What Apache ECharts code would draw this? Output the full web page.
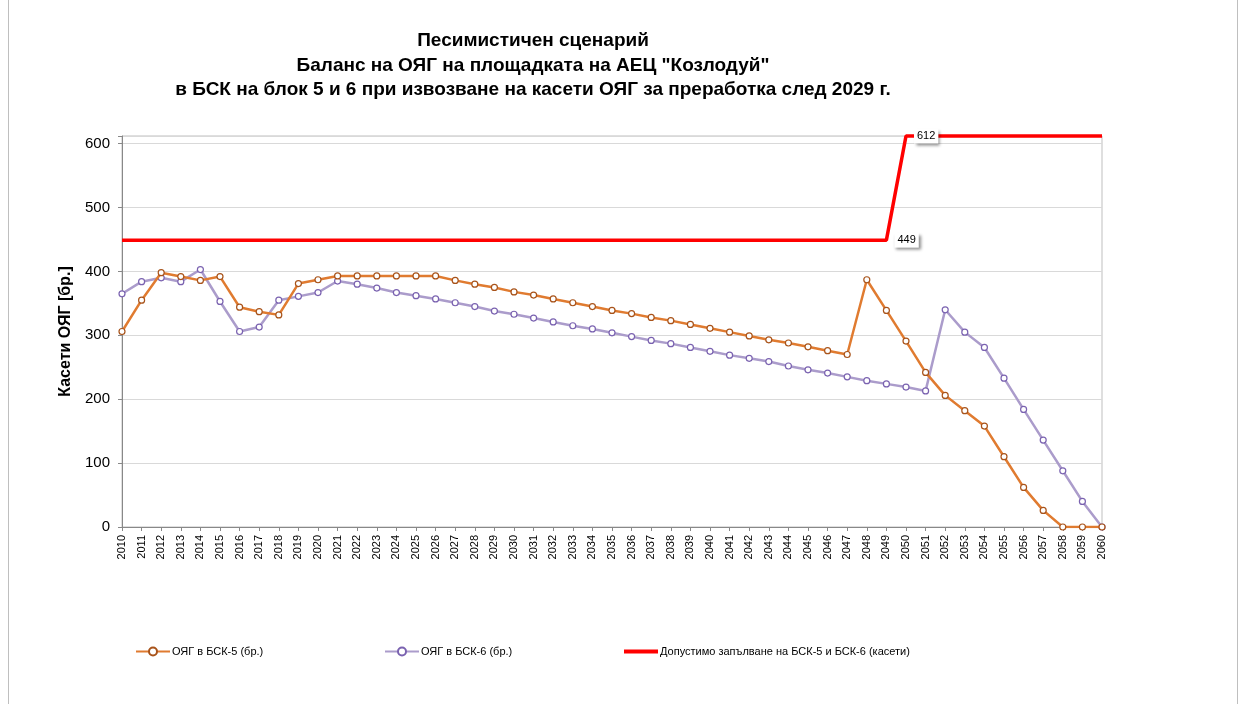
<!DOCTYPE html>
<html>
<head>
<meta charset="utf-8">
<script src="https://cdn.jsdelivr.net/npm/echarts@6/dist/echarts.min.js"></script>
<style>
  html, body { margin: 0; padding: 0; background: #fff; }
  #chart { width: 1242px; height: 704px; }
</style>
</head>
<body>
<div id="chart"></div>
<script>
// години
var years = [];
for (var y = 2010; y <= 2060; y++) years.push(String(y));

// ОЯГ в БСК-5 (бр.)
var bsk5 = [306, 355, 398, 392, 386, 392, 344, 337, 332, 381,
            387, 393, 393, 393, 393, 393, 393, 386, 380, 375,
            368, 363, 357, 351, 345, 339, 334, 328, 323, 317,
            311, 305, 299, 293, 288, 282, 276, 270, 387, 339,
            291, 242, 206, 182, 158, 110, 62, 26, 0, 0, 0];

// ОЯГ в БСК-6 (бр.)
var bsk6 = [365, 384, 390, 384, 403, 353, 306, 313, 355, 361,
            367, 385, 380, 374, 367, 362, 357, 351, 345, 338,
            333, 327, 321, 315, 310, 304, 298, 292, 287, 281,
            275, 269, 264, 259, 252, 246, 241, 235, 229, 224,
            219, 213, 340, 305, 281, 233, 184, 136, 88, 40, 0];

// Допустимо запълване (касети)
var limit = [];
for (var i = 0; i < years.length; i++) limit.push(years[i] < '2050' ? 449 : 612);
var labelYears = ['2049', '2050'];

var font = 'Liberation Sans';
var names = ['ОЯГ в БСК-5 (бр.)', 'ОЯГ в БСК-6 (бр.)', 'Допустимо запълване на БСК-5 и БСК-6 (касети)'];

var labelBox = {
  show: true, position: 'right', distance: 8, color: '#000', fontSize: 11, fontFamily: font,
  backgroundColor: '#fff', padding: [2, 3],
  shadowColor: 'rgba(0,0,0,0.45)', shadowBlur: 3, shadowOffsetX: 2, shadowOffsetY: 2
};
var limitData = limit.map(function (v, i) {
  if (labelYears.indexOf(years[i]) < 0) return v;
  return { value: v, label: labelBox };
});

function legendAt(left, name, opts) {
  return Object.assign({
    left: left, top: 641, itemWidth: 34, itemHeight: 10,
    textStyle: { fontSize: 11, color: '#000', fontFamily: font, padding: [0, 0, 0, -3] },
    data: [name]
  }, opts || {});
}

var chart = echarts.init(document.getElementById('chart'));
chart.setOption({
  animation: false,
  textStyle: { fontFamily: font },
  title: {
    text: 'Песимистичен сценарий\nБаланс на ОЯГ на площадката на АЕЦ "Козлодуй"\nв БСК на блок 5 и 6 при извозване на касети ОЯГ за преработка след 2029 г.',
    left: 528, top: 24, textAlign: 'center',
    textStyle: { fontSize: 19, fontWeight: 'bold', color: '#000', lineHeight: 24.5, fontFamily: font }
  },
  legend: [
    legendAt(130, names[0]),
    legendAt(379, names[1]),
    legendAt(619, names[2], { itemHeight: 4, data: [{ name: names[2], icon: 'rect' }] })
  ],
  graphic: [{
    type: 'rect', shape: { x: 8.5, y: -2, width: 1229, height: 710 },
    style: { fill: 'none', stroke: '#BFBFBF', lineWidth: 1 }, silent: true
  }],
  grid: { left: 122, right: 140, top: 136, bottom: 177, show: true, borderColor: '#BFBFBF', borderWidth: 1 },
  xAxis: {
    type: 'category', data: years, boundaryGap: false,
    axisLine: { lineStyle: { color: '#888' } },
    axisTick: { show: true, length: 4, lineStyle: { color: '#888' } },
    axisLabel: { rotate: 90, interval: 0, fontSize: 11, color: '#000', margin: 8, fontFamily: font }
  },
  yAxis: {
    type: 'value', min: 0, max: 612, interval: 100,
    name: 'Касети ОЯГ [бр.]', nameLocation: 'middle', nameGap: 47, nameRotate: 90,
    nameTextStyle: { fontSize: 16, fontWeight: 'bold', color: '#000', fontFamily: font },
    axisLine: { show: true, lineStyle: { color: '#888' } },
    axisTick: { show: true, length: 4, lineStyle: { color: '#888' } },
    axisLabel: {
      fontSize: 15, color: '#000', margin: 12, fontFamily: font,
      formatter: function (v) { return v % 100 === 0 ? String(v) : ''; }
    },
    splitLine: { lineStyle: { color: '#D9D9D9', width: 1 } }
  },
  series: [
    {
      name: names[0], type: 'line', data: bsk5,
      symbol: 'circle', symbolSize: 6,
      lineStyle: { color: '#E07B30', width: 2.5 },
      itemStyle: { color: '#fff', borderColor: '#A8531A', borderWidth: 1.2 },
      z: 3
    },
    {
      name: names[1], type: 'line', data: bsk6,
      symbol: 'circle', symbolSize: 6,
      lineStyle: { color: '#AB9CCB', width: 2.5 },
      itemStyle: { color: '#fff', borderColor: '#7A62B0', borderWidth: 1.2 },
      z: 2
    },
    {
      name: names[2], type: 'line', data: limitData,
      symbol: 'circle', symbolSize: 0, showSymbol: true, clip: false,
      lineStyle: { color: '#FF0000', width: 3.5 },
      itemStyle: { color: '#FF0000' },
      z: 4
    }
  ]
});
</script>
</body>
</html>
